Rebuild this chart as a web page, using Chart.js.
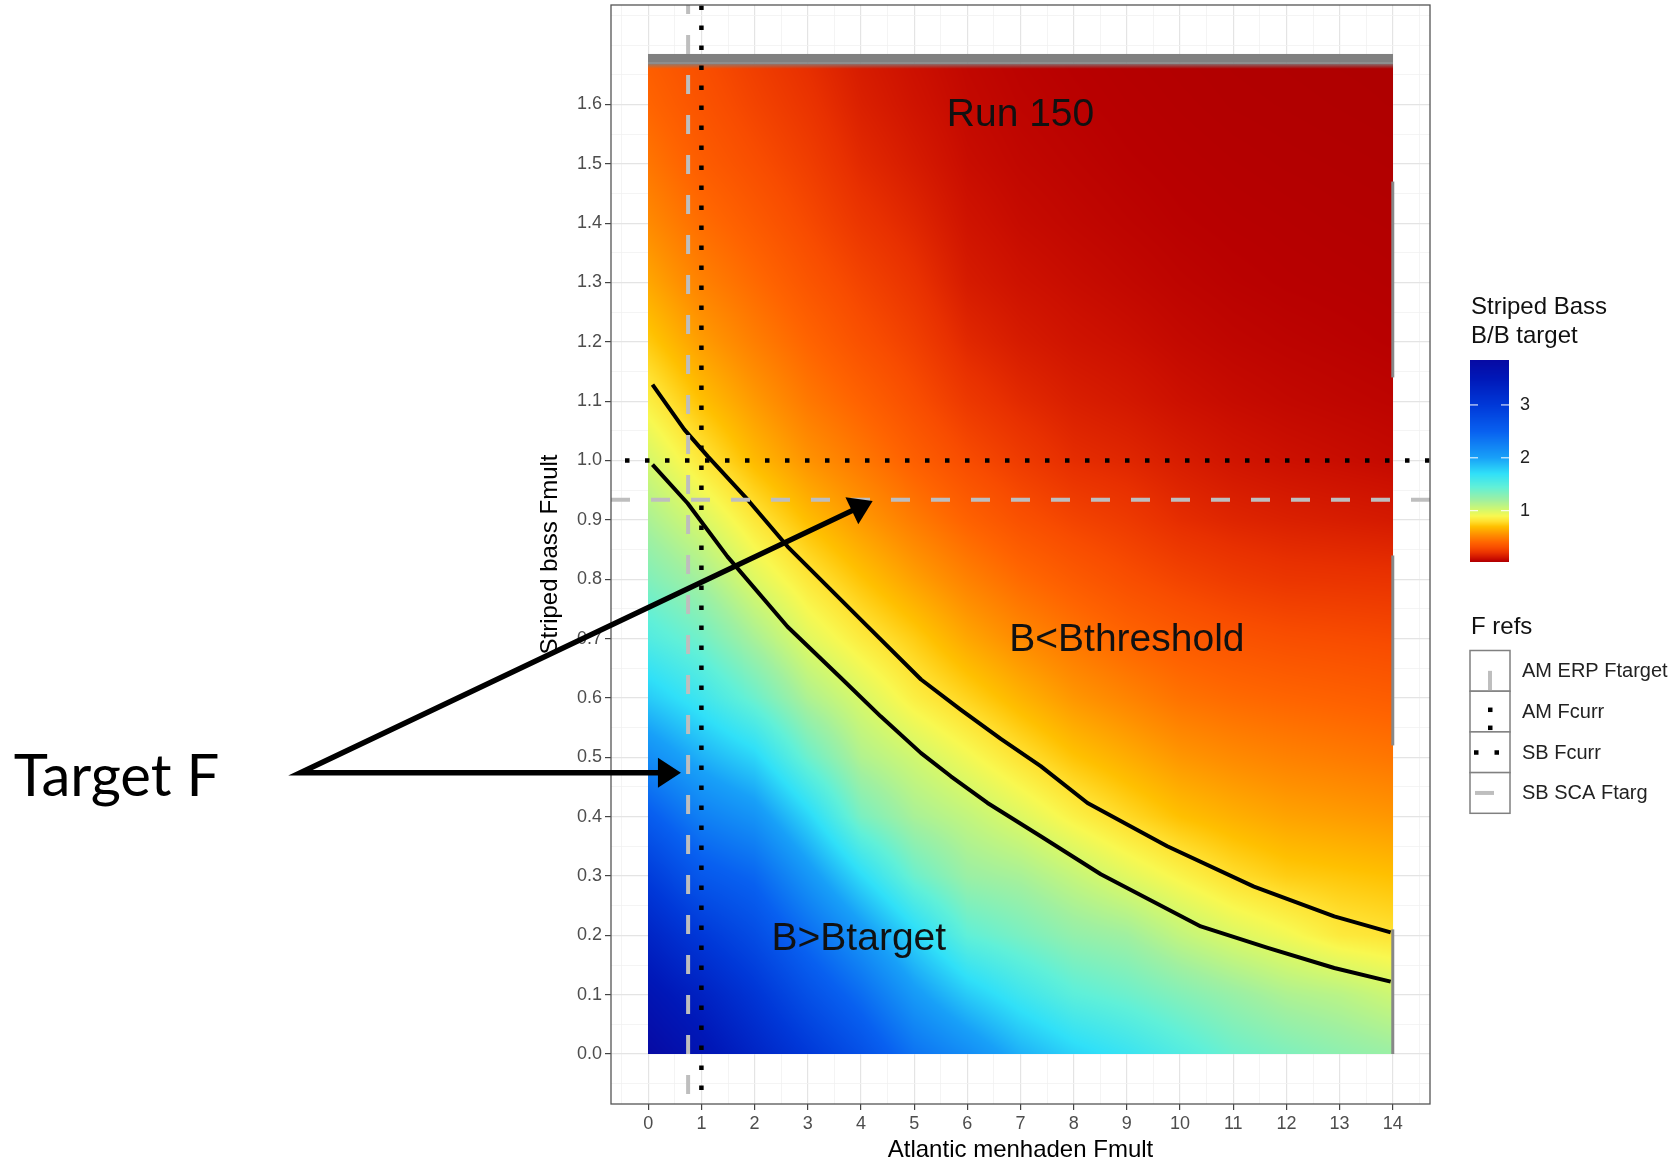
<!DOCTYPE html>
<html>
<head>
<meta charset="utf-8">
<script src="https://cdn.jsdelivr.net/npm/chart.js@4.4.1/dist/chart.umd.min.js"></script>
<style>
html,body{margin:0;padding:0;background:#ffffff;}
canvas{display:block;}
</style>
</head>
<body>
<canvas id="c" width="1675" height="1162"></canvas>
<script>
// ================= DATA =================
// Grid of the heat map: Atlantic menhaden Fmult (columns) x Striped bass Fmult (rows)
const amFmult = [0,1,2,3,4,5,6,7,8,9,10,11,12,13,14];
const sbFmult = [0,0.1,0.2,0.3,0.4,0.5,0.6,0.7,0.8,0.9,1.0,1.1,1.2,1.3,1.4,1.5,1.6,1.7];

const bAtAm0  = [3.85,3.60,3.30,2.95,2.55,2.15,1.80,1.52,1.32,1.16,1.01,0.86,0.73,0.62,0.53,0.46,0.40,0.36];
const bAtAm1  = [3.60,3.35,3.00,2.60,2.25,1.92,1.62,1.38,1.18,1.00,0.83,0.70,0.59,0.50,0.43,0.37,0.33,0.30];
const bAtAm2  = [3.30,3.05,2.75,2.45,2.10,1.75,1.40,1.17,0.98,0.83,0.68,0.58,0.49,0.42,0.36,0.31,0.27,0.24];
const bAtAm3  = [3.00,2.70,2.40,2.08,1.75,1.40,1.15,0.97,0.83,0.69,0.56,0.47,0.40,0.34,0.29,0.25,0.215,0.185];
const bAtAm4  = [2.70,2.40,2.08,1.72,1.35,1.14,1.00,0.845,0.71,0.58,0.47,0.39,0.32,0.27,0.22,0.18,0.15,0.13];
const bAtAm5  = [2.35,2.05,1.75,1.40,1.17,1.03,0.86,0.74,0.60,0.48,0.38,0.31,0.255,0.21,0.17,0.135,0.11,0.095];
const bAtAm6  = [2.15,1.80,1.45,1.22,1.08,0.92,0.76,0.62,0.50,0.39,0.30,0.23,0.175,0.135,0.11,0.09,0.078,0.07];
const bAtAm7  = [1.92,1.62,1.35,1.17,0.98,0.81,0.66,0.53,0.42,0.32,0.24,0.18,0.135,0.105,0.085,0.072,0.063,0.056];
const bAtAm8  = [1.76,1.47,1.25,1.07,0.87,0.71,0.57,0.46,0.36,0.27,0.19,0.145,0.11,0.088,0.072,0.062,0.054,0.048];
const bAtAm9  = [1.65,1.40,1.20,0.97,0.78,0.64,0.51,0.40,0.31,0.235,0.17,0.125,0.095,0.075,0.062,0.053,0.047,0.042];
const bAtAm10 = [1.52,1.31,1.08,0.88,0.70,0.57,0.45,0.36,0.27,0.19,0.14,0.10,0.078,0.063,0.053,0.047,0.042,0.038];
const bAtAm11 = [1.40,1.23,0.99,0.795,0.65,0.53,0.42,0.33,0.24,0.165,0.115,0.085,0.067,0.055,0.048,0.043,0.038,0.035];
const bAtAm12 = [1.33,1.15,0.92,0.74,0.61,0.50,0.40,0.31,0.22,0.15,0.10,0.075,0.06,0.05,0.045,0.04,0.036,0.033];
const bAtAm13 = [1.27,1.11,0.84,0.72,0.59,0.48,0.385,0.30,0.215,0.14,0.09,0.068,0.055,0.047,0.042,0.038,0.034,0.031];
const bAtAm14 = [1.22,1.04,0.81,0.70,0.57,0.46,0.37,0.29,0.21,0.13,0.08,0.062,0.05,0.044,0.04,0.036,0.032,0.03];
const bRatioCols = [bAtAm0,bAtAm1,bAtAm2,bAtAm3,bAtAm4,bAtAm5,bAtAm6,bAtAm7,bAtAm8,bAtAm9,bAtAm10,bAtAm11,bAtAm12,bAtAm13,bAtAm14];

// top of the coloured raster and the grey NA band above it (SB Fmult)
const rasterTop = 1.668;
const naBand = [1.685, 1.670, 1.660];
// grey NA pieces along the right edge (AM Fmult = 14), SB Fmult ranges
const naEdgeX = 14;
const naEdgeRanges = [[1.47,1.14],[0.84,0.52],[0.21,0.0]];

// Contour lines
const btargetX = [0.08,0.74,1.49,2.62,3.62,4.37,5.13,5.69,6.38,7.38,8.51,10.39,11.65,12.9,13.96];
const btargetY = [0.993,0.928,0.838,0.720,0.634,0.569,0.507,0.468,0.423,0.367,0.303,0.215,0.179,0.145,0.122];
const bthreshX = [0.08,0.68,1.12,1.87,2.62,3.37,4.12,5.13,5.88,6.63,7.38,8.26,9.76,11.39,12.9,13.96];
const bthreshY = [1.128,1.052,1.007,0.934,0.855,0.788,0.721,0.631,0.580,0.531,0.485,0.423,0.350,0.282,0.232,0.205];

// F reference lines
const amErpFtarget = 0.75;
const amFcurr = 1.0;
const sbFcurr = 1.0;
const sbScaFtarg = 0.934;
const refLabels = ['AM ERP Ftarget','AM Fcurr','SB Fcurr','SB SCA Ftarg'];

// Axis limits and ticks
const xMin = -0.7, xMax = 14.7;
const yMin = -0.0842, yMax = 1.7675;
const xTickLabels = [0,1,2,3,4,5,6,7,8,9,10,11,12,13,14];
const yTickLabels = [0,0.1,0.2,0.3,0.4,0.5,0.6,0.7,0.8,0.9,1.0,1.1,1.2,1.3,1.4,1.5,1.6];
const legendTicks = [1,2,3];

// Colour scale stops (B/Btarget -> colour)
const cmapValues = [0.00,0.05,0.10,0.20,0.30,0.40,0.55,0.70,0.80,0.90,1.00,1.20,1.45,1.70,2.00,2.50,3.00,3.50,3.90];
const cmapColors = ['#A00000','#B80000','#CC1000','#E83000','#F84C00','#FF6400','#FF9000','#FFC000','#FFE030','#F8F850','#D8F868','#A0F0A0','#60F0D8','#30E0F8','#18A0F8','#0860F0','#0038D8','#0018B8','#0808A0'];

// Text notes (data positions)
const noteTexts = ['Run 150','B<Bthreshold','B>Btarget'];
const noteX = [7.0, 9.0, 3.96];
const noteY = [1.582, 0.697, 0.193];

// "Target F" call-out
const calloutText = 'Target F';
const calloutTextX = -11.93, calloutTextY = 0.434;
const arrowFromX = -6.54, arrowFromY = 0.474;
const arrowToX = [0.615, 4.22];
const arrowToY = [0.474, 0.932];

// ================= HELPERS =================
const FONT = '"Liberation Sans", Arial, Helvetica, sans-serif';
const cmapRGB = cmapColors.map(h => [parseInt(h.slice(1,3),16), parseInt(h.slice(3,5),16), parseInt(h.slice(5,7),16)]);
function colorFor(v) {
  if (v <= cmapValues[0]) return cmapRGB[0];
  for (let i = 1; i < cmapValues.length; i++) {
    if (v <= cmapValues[i]) {
      const t = (v - cmapValues[i-1]) / (cmapValues[i] - cmapValues[i-1]);
      const a = cmapRGB[i-1], b = cmapRGB[i];
      return [a[0]+(b[0]-a[0])*t, a[1]+(b[1]-a[1])*t, a[2]+(b[2]-a[2])*t];
    }
  }
  return cmapRGB[cmapRGB.length-1];
}
function findCell(arr, v) {
  if (v <= arr[0]) return [0, 0];
  const n = arr.length;
  if (v >= arr[n-1]) return [n-2, 1];
  for (let i = 0; i < n-1; i++) {
    if (v <= arr[i+1]) return [i, (v - arr[i]) / (arr[i+1] - arr[i])];
  }
  return [n-2, 1];
}
function sampleB(xv, yv) {
  const [i, tx] = findCell(amFmult, xv);
  const [j, ty] = findCell(sbFmult, yv);
  const c0 = bRatioCols[i], c1 = bRatioCols[i+1];
  const a = c0[j] + (c0[j+1]-c0[j])*ty;
  const b = c1[j] + (c1[j+1]-c1[j])*ty;
  return a + (b-a)*tx;
}
const allVals = bRatioCols.flat();
const vMin = Math.min(...allVals), vMax = Math.max(...allVals);

const isXMajor = v => xTickLabels.some(t => Math.abs(t - v) < 1e-6);
const isYMajor = v => yTickLabels.some(t => Math.abs(t - v) < 1e-6);

// ================= PLUGINS =================
const heatPlugin = {
  id: 'heat',
  beforeDatasetsDraw(chart) {
    const {ctx, scales: {x, y}} = chart;
    const px0 = Math.round(x.getPixelForValue(amFmult[0]));
    const px1 = Math.round(x.getPixelForValue(amFmult[amFmult.length-1]));
    const py0 = Math.round(y.getPixelForValue(rasterTop));
    const py1 = Math.round(y.getPixelForValue(sbFmult[0]));
    const w = px1 - px0, h = py1 - py0;
    const off = document.createElement('canvas');
    off.width = w; off.height = h;
    const octx = off.getContext('2d');
    const img = octx.createImageData(w, h);
    const xs = new Array(w);
    for (let i = 0; i < w; i++) xs[i] = x.getValueForPixel(px0 + i + 0.5);
    for (let j = 0; j < h; j++) {
      const yv = y.getValueForPixel(py0 + j + 0.5);
      for (let i = 0; i < w; i++) {
        const c = colorFor(sampleB(xs[i], yv));
        const k = (j*w + i) * 4;
        img.data[k] = c[0]; img.data[k+1] = c[1]; img.data[k+2] = c[2]; img.data[k+3] = 255;
      }
    }
    octx.putImageData(img, 0, 0);
    ctx.save();
    ctx.drawImage(off, px0, py0);
    // grey NA band on top
    const bTop = y.getPixelForValue(naBand[0]);
    const bSolid = y.getPixelForValue(naBand[1]);
    const bFade = y.getPixelForValue(naBand[2]);
    ctx.fillStyle = '#808080';
    ctx.fillRect(px0, bTop, w, bSolid - bTop);
    const g = ctx.createLinearGradient(0, bSolid, 0, bFade);
    g.addColorStop(0, 'rgba(128,128,128,1)');
    g.addColorStop(1, 'rgba(128,128,128,0)');
    ctx.fillStyle = g;
    ctx.fillRect(px0, bSolid, w, bFade - bSolid);
    // grey NA pieces at right edge
    ctx.strokeStyle = '#888888';
    ctx.lineWidth = 3;
    const ex = x.getPixelForValue(naEdgeX);
    naEdgeRanges.forEach(r => {
      ctx.beginPath();
      ctx.moveTo(ex, y.getPixelForValue(r[0]));
      ctx.lineTo(ex, y.getPixelForValue(r[1]));
      ctx.stroke();
    });
    ctx.restore();
  }
};

const notesPlugin = {
  id: 'notes',
  afterDatasetsDraw(chart) {
    const {ctx, chartArea: a, scales: {x, y}} = chart;
    ctx.save();
    ctx.fillStyle = '#111111';
    ctx.font = '39px ' + FONT;
    ctx.textAlign = 'center';
    ctx.textBaseline = 'middle';
    noteTexts.forEach((t, i) => ctx.fillText(t, x.getPixelForValue(noteX[i]), y.getPixelForValue(noteY[i])));
    // panel border
    ctx.strokeStyle = '#555555';
    ctx.lineWidth = 1.3;
    ctx.strokeRect(a.left, a.top, a.right - a.left, a.bottom - a.top);
    ctx.restore();
  },
  afterDraw(chart) {
    const {ctx, scales: {x, y}} = chart;
    ctx.save();
    // Target F call-out
    ctx.fillStyle = '#000000';
    ctx.font = '58px Lato, "Open Sans", sans-serif';
    ctx.textAlign = 'left';
    ctx.textBaseline = 'alphabetic';
    ctx.fillText(calloutText, x.getPixelForValue(calloutTextX), y.getPixelForValue(calloutTextY));
    const sx = x.getPixelForValue(arrowFromX), sy = y.getPixelForValue(arrowFromY);
    const headLen = 23, headHalf = 15;
    const tips = arrowToX.map((tx, i) => [x.getPixelForValue(tx), y.getPixelForValue(arrowToY[i])]);
    const bases = tips.map(([tx, ty]) => {
      const ang = Math.atan2(ty - sy, tx - sx);
      return [tx - (headLen - 2) * Math.cos(ang), ty - (headLen - 2) * Math.sin(ang), ang];
    });
    ctx.strokeStyle = '#000000';
    ctx.lineWidth = 5.5;
    ctx.lineJoin = 'miter';
    ctx.miterLimit = 10;
    ctx.lineCap = 'butt';
    ctx.beginPath();
    ctx.moveTo(bases[0][0], bases[0][1]);
    ctx.lineTo(sx, sy);
    ctx.lineTo(bases[1][0], bases[1][1]);
    ctx.stroke();
    tips.forEach(([tx, ty], i) => {
      const ang = bases[i][2];
      const bx = tx - headLen * Math.cos(ang), by = ty - headLen * Math.sin(ang);
      ctx.beginPath();
      ctx.moveTo(tx, ty);
      ctx.lineTo(bx + headHalf * Math.sin(ang), by - headHalf * Math.cos(ang));
      ctx.lineTo(bx - headHalf * Math.sin(ang), by + headHalf * Math.cos(ang));
      ctx.closePath();
      ctx.fill();
    });
    ctx.restore();
  }
};

const legendPlugin = {
  id: 'customLegend',
  afterDraw(chart) {
    const ctx = chart.ctx;
    ctx.save();
    const lx = 1471;
    ctx.fillStyle = '#111111';
    ctx.font = '24px ' + FONT;
    ctx.textAlign = 'left';
    ctx.textBaseline = 'middle';
    ctx.fillText('Striped Bass', lx, 307.5);
    ctx.fillText('B/B target', lx, 336.5);
    // colour bar
    const bx0 = 1470, bw = 39, bTop = 360, bBot = 562;
    for (let r = bTop; r < bBot; r++) {
      const v = vMax - (r + 0.5 - bTop) / (bBot - bTop) * (vMax - vMin);
      const c = colorFor(v);
      ctx.fillStyle = 'rgb(' + Math.round(c[0]) + ',' + Math.round(c[1]) + ',' + Math.round(c[2]) + ')';
      ctx.fillRect(bx0, r, bw, 1);
    }
    ctx.strokeStyle = '#ffffff';
    ctx.lineWidth = 1;
    ctx.font = '18px ' + FONT;
    ctx.fillStyle = '#222222';
    legendTicks.forEach(t => {
      const ty = bBot - (t - vMin) / (vMax - vMin) * (bBot - bTop);
      ctx.beginPath();
      ctx.moveTo(bx0, ty); ctx.lineTo(bx0 + 8, ty);
      ctx.moveTo(bx0 + bw - 8, ty); ctx.lineTo(bx0 + bw, ty);
      ctx.stroke();
      ctx.fillText(String(t), 1520, ty);
    });
    // F refs legend
    ctx.fillStyle = '#111111';
    ctx.font = '24px ' + FONT;
    ctx.fillText('F refs', lx, 627);
    const kx = 1470, kw = 40, kTop = 650.5, kh = 40.7;
    refLabels.forEach((lab, i) => {
      const ky = kTop + i * kh;
      ctx.fillStyle = '#ffffff';
      ctx.fillRect(kx, ky, kw, kh);
      ctx.strokeStyle = '#808080';
      ctx.lineWidth = 1.5;
      ctx.strokeRect(kx, ky, kw, kh);
      const cx = kx + kw / 2, cy = ky + kh / 2;
      if (i === 0) {
        ctx.strokeStyle = '#BEBEBE'; ctx.lineWidth = 4;
        ctx.beginPath(); ctx.moveTo(cx, cy); ctx.lineTo(cx, ky + kh); ctx.stroke();
      } else if (i === 1) {
        ctx.fillStyle = '#000000';
        ctx.fillRect(cx - 2, cy - 4, 4.5, 4.5);
        ctx.fillRect(cx - 2, cy + 14, 4.5, 4.5);
      } else if (i === 2) {
        ctx.fillStyle = '#000000';
        ctx.fillRect(kx + 4, cy - 2, 4.5, 4.5);
        ctx.fillRect(kx + 24.5, cy - 2, 4.5, 4.5);
      } else {
        ctx.strokeStyle = '#BEBEBE'; ctx.lineWidth = 4;
        ctx.beginPath(); ctx.moveTo(kx + 5, cy); ctx.lineTo(kx + 24, cy); ctx.stroke();
      }
      ctx.fillStyle = '#222222';
      ctx.font = '20px ' + FONT;
      ctx.fillText(lab, 1522, cy + 1);
    });
    ctx.restore();
  }
};

// ================= CHART =================
const lineBase = {showLine: true, pointRadius: 0, pointHoverRadius: 0, fill: false, tension: 0, clip: 0, borderCapStyle: 'butt'};
const datasets = [
  Object.assign({label: refLabels[1], data: [{x: amFcurr, y: yMin}, {x: amFcurr, y: yMax}],
    borderColor: '#000000', borderWidth: 4.5, borderDash: [4.5, 15.5], borderDashOffset: 6}, lineBase),
  Object.assign({label: refLabels[2], data: [{x: xMin, y: sbFcurr}, {x: xMax, y: sbFcurr}],
    borderColor: '#000000', borderWidth: 4.5, borderDash: [4.5, 15.5], borderDashOffset: 6}, lineBase),
  Object.assign({label: refLabels[0], data: [{x: amErpFtarget, y: yMax}, {x: amErpFtarget, y: yMin}],
    borderColor: '#BEBEBE', borderWidth: 4, borderDash: [19, 21], borderDashOffset: 10}, lineBase),
  Object.assign({label: refLabels[3], data: [{x: xMin, y: sbScaFtarg}, {x: xMax, y: sbScaFtarg}],
    borderColor: '#BEBEBE', borderWidth: 4, borderDash: [19, 21]}, lineBase),
  Object.assign({label: 'B = Btarget', data: btargetX.map((v, i) => ({x: v, y: btargetY[i]})),
    borderColor: '#000000', borderWidth: 4, borderJoinStyle: 'round'}, lineBase),
  Object.assign({label: 'B = Bthreshold', data: bthreshX.map((v, i) => ({x: v, y: bthreshY[i]})),
    borderColor: '#000000', borderWidth: 4, borderJoinStyle: 'round'}, lineBase)
];

const majorGrid = '#E4E4E4', minorGrid = '#F1F1F1';

new Chart(document.getElementById('c').getContext('2d'), {
  type: 'scatter',
  data: {datasets},
  options: {
    responsive: false,
    animation: false,
    devicePixelRatio: 1,
    events: [],
    layout: {autoPadding: false, padding: {left: 511, right: 245, top: 5, bottom: 0}},
    plugins: {legend: {display: false}, tooltip: {enabled: false}},
    scales: {
      x: {
        type: 'linear', min: xMin, max: xMax,
        afterFit: s => { s.height = 58; s.paddingLeft = 0; s.paddingRight = 0; },
        ticks: {
          stepSize: 0.5, includeBounds: false, autoSkip: false, maxRotation: 0, minRotation: 0,
          padding: 3, color: '#4D4D4D', font: {family: FONT, size: 18},
          callback: v => isXMajor(v) ? String(Math.round(v)) : ''
        },
        grid: {
          color: c => (c.tick && isXMajor(c.tick.value)) ? majorGrid : minorGrid,
          lineWidth: c => (c.tick && isXMajor(c.tick.value)) ? 1.2 : 0.8,
          tickColor: c => (c.tick && isXMajor(c.tick.value)) ? '#444444' : 'rgba(0,0,0,0)',
          tickLength: 6, tickWidth: 1.2
        },
        border: {display: false},
        title: {display: true, text: 'Atlantic menhaden Fmult', color: '#000000',
          font: {family: FONT, size: 24, lineHeight: 1}, padding: {top: 0, bottom: 0}}
      },
      y: {
        type: 'linear', min: yMin, max: yMax,
        afterFit: s => { s.width = 100; s.paddingTop = 0; s.paddingBottom = 0; },
        ticks: {
          stepSize: 0.05, includeBounds: false, autoSkip: false,
          padding: 3, color: '#4D4D4D', font: {family: FONT, size: 18},
          callback: v => isYMajor(v) ? v.toFixed(1) : ''
        },
        grid: {
          color: c => (c.tick && isYMajor(c.tick.value)) ? majorGrid : minorGrid,
          lineWidth: c => (c.tick && isYMajor(c.tick.value)) ? 1.2 : 0.8,
          tickColor: c => (c.tick && isYMajor(c.tick.value)) ? '#444444' : 'rgba(0,0,0,0)',
          tickLength: 6, tickWidth: 1.2
        },
        border: {display: false},
        title: {display: true, text: 'Striped bass Fmult', color: '#000000',
          font: {family: FONT, size: 24, lineHeight: 1}, padding: {top: 27, bottom: 0}}
      }
    }
  },
  plugins: [heatPlugin, notesPlugin, legendPlugin]
});
</script>
</body>
</html>
